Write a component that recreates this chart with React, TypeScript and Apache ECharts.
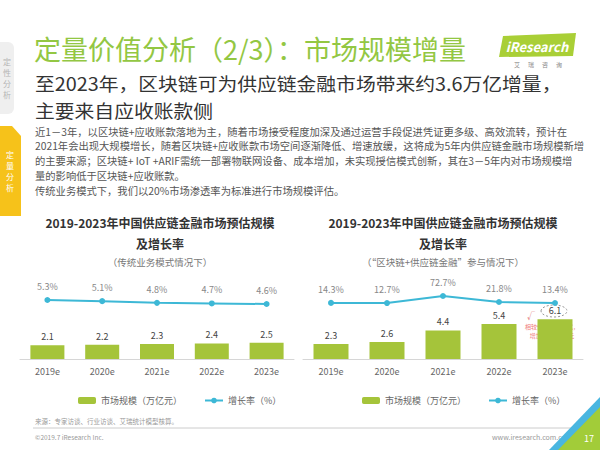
import React, { useEffect, useRef } from "react";
import * as echarts from "echarts";

const years = ["2019e", "2020e", "2021e", "2022e", "2023e"];
const sizeTraditional = [2.1, 2.2, 2.3, 2.4, 2.5];
const growthTraditional = [5.3, 5.1, 4.8, 4.7, 4.6];
const sizeBlockchain = [2.3, 2.6, 4.4, 5.4, 6.1];
const growthBlockchain = [14.3, 12.7, 72.7, 21.8, 13.4];

const barName = "市场规模（万亿元）";
const lineName = "增长率（%）";

const bodyLines = [
  "近1－3年，以区块链+应收账款落地为主，随着市场接受程度加深及通过运营手段促进凭证更多级、高效流转，预计在",
  "2021年会出现大规模增长，随着区块链+应收账款市场空间逐渐降低、增速放缓，这将成为5年内供应链金融市场规模新增",
  "的主要来源；区块链+ IoT +ARIF需统一部署物联网设备、成本增加，未实现授信模式创新，其在3－5年内对市场规模增",
  "量的影响低于区块链+应收账款。",
  "传统业务模式下，我们以20%市场渗透率为标准进行市场规模评估。",
];

const FONT = '"Noto Sans CJK SC", "Noto Sans", sans-serif';
const GREEN = "#a5c43a";
const TEAL = "#3db8d6";

function txt(x: number, y: number, text: string, size: number, fill: string, extra: any = {}) {
  const el: any = {
    type: "text",
    x,
    y,
    silent: true,
    style: {
      text,
      fontSize: size,
      fontFamily: FONT,
      fill,
      textAlign: extra.align || "left",
      textVerticalAlign: "middle",
      fontWeight: extra.weight || "normal",
      fontStyle: extra.style || "normal",
      lineHeight: extra.lineHeight,
    },
  };
  if (extra.scaleX) el.scaleX = extra.scaleX;
  return el;
}

export default function App() {
  const ref = useRef<HTMLDivElement>(null);
  useEffect(() => {
    if (!ref.current) return;
    const chart = echarts.init(ref.current, null, { renderer: "svg" });

    const graphic: any[] = [
      // sidebar tabs
      { type: "rect", shape: { x: -6, y: 42, width: 20, height: 72, r: 6 }, style: { fill: "#efefef" } },
      txt(7, 78, "定\n性\n分\n析", 8, "#b5b5b5", { align: "center", lineHeight: 11 }),
      {
        type: "polygon",
        shape: { points: [[0, 126], [12, 126], [21, 136], [21, 216], [0, 216]] },
        style: { fill: "#f6c21a" },
      },
      txt(10, 171, "定\n量\n分\n析", 8, "#ffffff", { align: "center", lineHeight: 11 }),
      // title
      txt(34, 48, "定量价值分析（2/3）：市场规模增量", 27, "#93c743"),
      // logo
      {
        type: "polygon",
        shape: { points: [[503, 36], [576, 33], [573, 56], [499, 57]] },
        style: { fill: "#a9cf36" },
      },
      txt(537, 46, "iResearch", 13, "#ffffff", { align: "center", weight: "bold", style: "italic" }),
      txt(538, 64, "艾      瑞      咨      询", 6, "#888888", { align: "center" }),
      // subtitle
      txt(35, 83, "至2023年，区块链可为供应链金融市场带来约3.6万亿增量，", 18, "#333333", { scaleX: 1.1 }),
      txt(35, 109.5, "主要来自应收账款侧", 18, "#333333", { scaleX: 1.1 }),
      // chart titles
      txt(160, 222, "2019-2023年中国供应链金融市场预估规模", 12, "#333333", { align: "center", weight: "bold" }),
      txt(160, 243, "及增长率", 12, "#333333", { align: "center", weight: "bold" }),
      txt(160, 262, "（传统业务模式情况下）", 9.5, "#777777", { align: "center" }),
      txt(443, 222, "2019-2023年中国供应链金融市场预估规模", 12, "#333333", { align: "center", weight: "bold" }),
      txt(443, 243, "及增长率", 12, "#333333", { align: "center", weight: "bold" }),
      txt(443, 262, "（“区块链+供应链金融”参与情况下）", 9.5, "#777777", { align: "center" }),
      // annotation
      {
        type: "ellipse",
        shape: { cx: 554, cy: 311, rx: 13, ry: 6 },
        style: { fill: "none", stroke: "#999999", lineWidth: 1, lineDash: [2, 2] },
      },
      txt(531, 315, "√", 8, "#e06666", { align: "center" }),
      txt(552, 326, "相较传统业务模式，", 6, "#ef7c7c", { align: "center" }),
      txt(552, 335, "增加约3.6万亿元", 6, "#ef7c7c", { align: "center" }),
      // footer
      txt(35, 421, "来源：专家访谈、行业访谈、艾瑞统计模型核算。", 6.5, "#999999"),
      {
        type: "line",
        shape: { x1: 33, y1: 428, x2: 573, y2: 428 },
        style: { stroke: "#cccccc", lineWidth: 1 },
      },
      txt(35, 437, "©2019.7 iResearch Inc.", 6.5, "#999999"),
      txt(566, 437, "www.iresearch.com.cn", 7, "#999999", { align: "right" }),
      {
        type: "polygon",
        shape: { points: [[600, 397], [600, 450], [549, 450]] },
        style: { fill: "#49b6e0" },
      },
      {
        type: "polygon",
        shape: { points: [[600, 407], [600, 450], [558, 450]] },
        style: { fill: "#a2cc39" },
      },
      txt(589, 438, "17", 9, "#ffffff", { align: "center" }),
    ];

    bodyLines.forEach((l, i) => {
      graphic.push(txt(35, 131 + i * 14.8, l, 10.3, "#555555"));
    });

    const xCommon = (idx: number, show: boolean) => ({
      type: "category",
      gridIndex: idx,
      data: years,
      show,
      axisLine: { lineStyle: { color: "#d6d6d6" } },
      axisTick: { show: false },
      axisLabel: { color: "#666666", fontSize: 9, margin: 8, fontFamily: FONT },
    });

    const option: any = {
      animation: false,
      backgroundColor: "#ffffff",
      textStyle: { fontFamily: FONT },
      graphic,
      grid: [
        { left: 20, width: 274, top: 281, height: 78 },
        { left: 20, width: 274, top: 280, height: 30 },
        { left: 303, width: 280, top: 281, height: 78 },
        { left: 303, width: 280, top: 280, height: 30 },
      ],
      xAxis: [xCommon(0, true), xCommon(1, false), xCommon(2, true), xCommon(3, false)],
      yAxis: [
        { gridIndex: 0, min: 0, max: 12, show: false },
        { gridIndex: 1, min: 3.55, max: 8.8, show: false },
        { gridIndex: 2, min: 0, max: 12, show: false },
        { gridIndex: 3, min: -45.9, max: 208, show: false },
      ],
      legend: [
        {
          left: 73,
          top: 391,
          data: [barName, lineName],
          itemWidth: 18,
          itemHeight: 7,
          itemGap: 22,
          textStyle: { color: "#666666", fontSize: 9, fontFamily: FONT },
        },
        {
          left: 357,
          top: 391,
          data: [barName, lineName],
          itemWidth: 18,
          itemHeight: 7,
          itemGap: 22,
          textStyle: { color: "#666666", fontSize: 9, fontFamily: FONT },
        },
      ],
      series: [
        {
          name: barName,
          type: "bar",
          xAxisIndex: 0,
          yAxisIndex: 0,
          data: sizeTraditional,
          barWidth: 34,
          itemStyle: { color: GREEN },
          label: { show: true, position: "top", color: "#444444", fontSize: 9, distance: 4 },
        },
        {
          name: lineName,
          type: "line",
          xAxisIndex: 1,
          yAxisIndex: 1,
          data: growthTraditional,
          symbol: "circle",
          symbolSize: 6,
          lineStyle: { color: TEAL, width: 2 },
          itemStyle: { color: TEAL },
          label: { show: true, position: "top", color: "#888888", fontSize: 9, distance: 6, formatter: "{c}%" },
        },
        {
          name: barName,
          type: "bar",
          xAxisIndex: 2,
          yAxisIndex: 2,
          data: sizeBlockchain,
          barWidth: 35,
          itemStyle: { color: GREEN },
          label: { show: true, position: "top", color: "#444444", fontSize: 9, distance: 4 },
        },
        {
          name: lineName,
          type: "line",
          xAxisIndex: 3,
          yAxisIndex: 3,
          data: growthBlockchain,
          symbol: "circle",
          symbolSize: 6,
          lineStyle: { color: TEAL, width: 2 },
          itemStyle: { color: TEAL },
          label: { show: true, position: "top", color: "#888888", fontSize: 9, distance: 6, formatter: "{c}%" },
        },
      ],
    };
    chart.setOption(option);
    return () => chart.dispose();
  }, []);

  return (
    <div
      ref={ref}
      style={{ position: "fixed", left: 0, top: 0, width: 600, height: 450, background: "#ffffff" }}
    />
  );
}
